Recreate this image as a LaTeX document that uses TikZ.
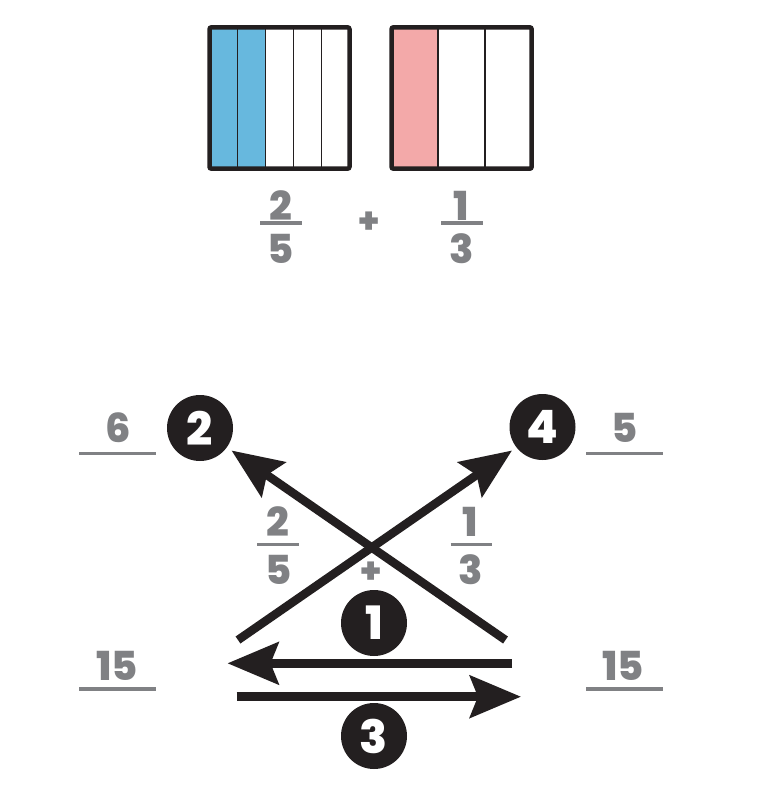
\documentclass[tikz,border=0pt]{standalone}
\usepackage{fontspec}
\setmainfont{Poppins}[BoldFont={Poppins ExtraBold}]
\usetikzlibrary{arrows.meta}
\definecolor{ink}{HTML}{231F20}
\definecolor{graytxt}{HTML}{808184}
\definecolor{blueF}{HTML}{67B8DE}
\definecolor{pinkF}{HTML}{F3A9A9}
\begin{document}
\begin{tikzpicture}[x=1pt,y=-1pt,
  num/.style={text=graytxt, font=\fontsize{40}{40}\selectfont\bfseries, inner sep=0pt},
  plussign/.style={text=graytxt, font=\fontsize{36}{36}\selectfont\bfseries, inner sep=0pt},
  badge/.style={circle, fill=ink, text=white, minimum size=66pt, inner sep=0pt, font=\fontsize{46}{46}\selectfont\bfseries},
  fbar/.style={draw=graytxt, line width=3.7pt},
  bigarrow/.style={draw=ink, line width=8.5pt, -{Stealth[length=51pt,width=42pt,inset=8pt]}},
  frame/.style={draw=ink, line width=4.5pt, rounded corners=2pt},
  divline/.style={draw=ink, line width=1.5pt}]
\useasboundingbox (0,0) rectangle (758,804);
% ---- top fraction boxes ----
\fill[blueF] (209.5,27.3) rectangle (265.5,168.7);
\foreach \x in {237.5,265.5,293.5,321.5} \draw[divline] (\x,27.3) -- (\x,168.7);
\draw[frame] (209.5,27.3) rectangle (349.5,168.7);
\fill[pinkF] (391.5,27.3) rectangle (438.2,168.7);
\foreach \x in {438.2,484.9} \draw[divline] (\x,27.3) -- (\x,168.7);
\draw[frame] (391.5,27.3) rectangle (531.7,168.7);
% ---- top fractions ----
\node[num] (tn1) at (281,206) {2};
\node[num] (td1) at (281,249) {5};
\draw[fbar] (260,222.7) -- (302,222.7);
\node[plussign] (tplus) at (369,223) {+};
\node[num] (tn2) at (461,206) {1};
\node[num] (td2) at (462,249) {3};
\draw[fbar] (441,222.7) -- (483,222.7);
% ---- badges ----
\node[badge] (c2) at (200,428) {2};
\node[badge] (c4) at (542.5,427) {4};
\node[badge] (c1) at (374,623) {1};
\node[badge] (c3) at (374,736) {3};
% ---- side labels ----
\node[num] (l6) at (118,428) {6};
\draw[fbar] (79,453.5) -- (156,453.5);
\node[num] (r5) at (625,428) {5};
\draw[fbar] (586,453.5) -- (662.5,453.5);
\node[num] (l15) at (117,666) {15};
\draw[fbar] (79,689) -- (156,689);
\node[num] (r15) at (623,666) {15};
\draw[fbar] (586,689) -- (662.5,689);
% ---- middle fractions ----
\node[num] (mn1) at (278.3,521.7) {2};
\node[num] (md1) at (278.3,570) {5};
\draw[fbar] (257.3,544.5) -- (299.3,544.5);
\node[num] (mn2) at (470,521.7) {1};
\node[num] (md2) at (471,570) {3};
\draw[fbar] (450.7,544.5) -- (491.7,544.5);
\node[plussign] (mplus) at (371.5,573) {+};
% ---- arrows ----
\coordinate (aStartR) at (505.5,640);
\coordinate (aTipL) at (231.5,450.5);
\coordinate (aStartL) at (238,640);
\coordinate (aTipR) at (512,450.5);
\coordinate (h1s) at (512,663.3);
\coordinate (h1e) at (227.5,663.3);
\coordinate (h3s) at (236.5,696.7);
\coordinate (h3e) at (521,696.7);
\draw[bigarrow] (aStartR) -- (aTipL);
\draw[bigarrow] (aStartL) -- (aTipR);
\draw[bigarrow] (h1s) -- (h1e);
\draw[bigarrow] (h3s) -- (h3e);
\end{tikzpicture}
\end{document}
